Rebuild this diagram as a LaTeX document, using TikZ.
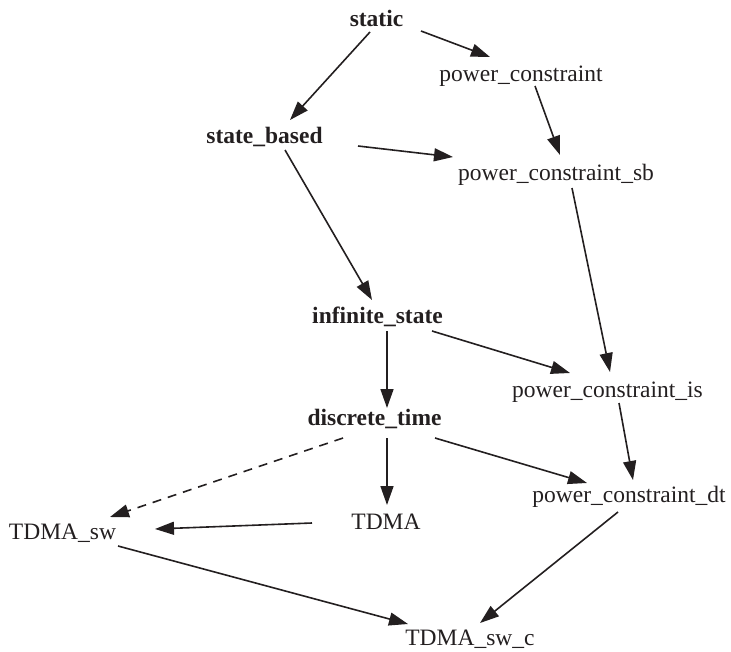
\documentclass[tikz,border=0pt]{standalone}
\usepackage{fontspec}
\setmainfont{Liberation Serif}
\usetikzlibrary{arrows.meta,calc}
\definecolor{ink}{HTML}{231F20}
\tikzset{
  lbl/.style={anchor=base, inner sep=0pt, text=ink, font=\fontsize{23.5}{28}\selectfont},
  blbl/.style={lbl, font=\fontsize{23.5}{28}\selectfont\bfseries},
  edge/.style={draw=ink, line width=1.6pt, -{Triangle[length=19pt,width=13pt]}},
  dashedge/.style={edge, dash pattern=on 9pt off 7pt}
}
\begin{document}
\begin{tikzpicture}[x=1pt,y=-1pt]
\useasboundingbox (0,0) rectangle (731,651);

% labels, placed on their baselines
\node[blbl] (static) at (376.5,26) {static};
\node[lbl]  (pc)     at (521,81)   {power\_constraint};
\node[blbl] (sb)     at (264.5,143) {state\_based};
\node[lbl]  (pcsb)   at (556,180)  {power\_constraint\_sb};
\node[blbl] (inf)    at (377.5,323) {infinite\_state};
\node[lbl]  (pcis)   at (607.5,397) {power\_constraint\_is};
\node[blbl] (dt)     at (374.5,425) {discrete\_time};
\node[lbl]  (pcdt)   at (629,502)  {power\_constraint\_dt};
\node[lbl]  (tdma)   at (386,529)  {TDMA};
\node[lbl]  (tsw)    at (62.5,539) {TDMA\_sw};
\node[lbl]  (tswc)   at (470,645)  {TDMA\_sw\_c};

% connectors
\draw[edge] ($(static.base)+(-6.5,6)$) -- ($(sb.base)+(25.5,-23)$);
\draw[edge] ($(static.base)+(44.5,5)$) -- ($(pc.base)+(-31,-24)$);
\draw[edge] ($(pc.base)+(14,5)$) -- ($(pcsb.base)+(4,-25)$);
\draw[edge] ($(sb.base)+(93.5,3)$) -- ($(pcsb.base)+(-103,-23)$);
\draw[edge] ($(sb.base)+(20.5,7)$) -- ($(inf.base)+(-5.5,-23)$);
\draw[edge] ($(pcsb.base)+(16,8)$) -- ($(pcis.base)+(2.5,-25)$);
\draw[edge] ($(inf.base)+(54.5,8)$) -- ($(pcis.base)+(-37.5,-24)$);
\draw[edge] ($(inf.base)+(9.5,8)$) -- ($(dt.base)+(12.5,-17)$);
\draw[edge] ($(pcis.base)+(11.5,6)$) -- ($(pcdt.base)+(4,-22)$);
\draw[edge] ($(dt.base)+(60.5,13)$) -- ($(pcdt.base)+(-42,-19)$);
\draw[edge] ($(dt.base)+(12.5,13)$) -- ($(tdma.base)+(1,-24)$);
\draw[dashedge] ($(dt.base)+(-31.5,13)$) -- ($(tsw.base)+(47.5,-22)$);
\draw[edge] ($(tdma.base)+(-74,-6)$) -- ($(tsw.base)+(92.5,-10)$);
\draw[edge] ($(tsw.base)+(55.5,7)$) -- ($(tswc.base)+(-62,-21)$);
\draw[edge] ($(pcdt.base)+(-11,10)$) -- ($(tswc.base)+(10,-22)$);
\end{tikzpicture}
\end{document}
